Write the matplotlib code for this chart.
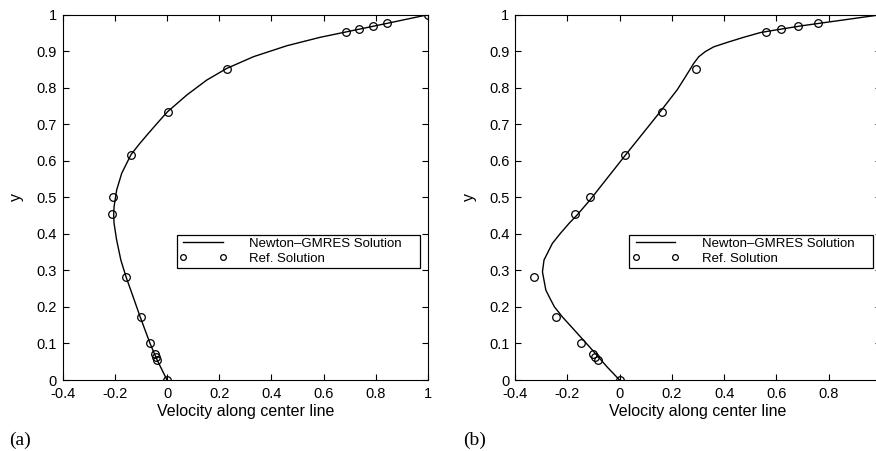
import numpy as np
import matplotlib.pyplot as plt
from matplotlib.ticker import FormatStrFormatter

plt.rcParams['font.family'] = ['Liberation Sans', 'DejaVu Sans']

# Reference solution: u-velocity along vertical centre line
y_ref = [0.0, 0.0547, 0.0625, 0.0703, 0.1016, 0.1719, 0.2813, 0.4531, 0.5,
         0.6172, 0.7344, 0.8516, 0.9531, 0.9609, 0.9688, 0.9766, 1.0]
u_ref_a = [0.0, -0.03717, -0.04192, -0.04775, -0.06434, -0.10150, -0.15662,
           -0.21090, -0.20581, -0.13641, 0.00332, 0.23151, 0.68717, 0.73722,
           0.78871, 0.84123, 1.0]
u_ref_b = [0.0, -0.08186, -0.09266, -0.10338, -0.14612, -0.24299, -0.32726,
           -0.17119, -0.11477, 0.02135, 0.16256, 0.29093, 0.55892, 0.61756,
           0.68439, 0.75837, 1.0]

# Newton-GMRES solution curves
y_a = [0.0, 0.0548, 0.1, 0.173, 0.23, 0.2813, 0.3285, 0.383, 0.429, 0.452,
       0.474, 0.52, 0.566, 0.617, 0.647, 0.675, 0.705, 0.734, 0.78, 0.821,
       0.853, 0.885, 0.915, 0.938, 0.953, 0.976, 1.0]
u_a = [0.0, -0.038, -0.065, -0.103, -0.131, -0.1566, -0.177, -0.193, -0.203,
       -0.2045, -0.203, -0.193, -0.1736, -0.138, -0.105, -0.0716, -0.035,
       0.0013, 0.0755, 0.152, 0.229, 0.331, 0.459, 0.586, 0.687, 0.841, 1.0]

y_b = [0.0, 0.036, 0.082, 0.128, 0.173, 0.2, 0.219, 0.246, 0.296, 0.3285,
       0.347, 0.374, 0.4, 0.429, 0.452, 0.493, 0.618, 0.734, 0.794, 0.83,
       0.867, 0.885, 0.899, 0.912, 0.924, 0.938, 0.951, 0.957, 0.97, 0.98, 1.0]
u_b = [0.0, -0.048, -0.104, -0.162, -0.219, -0.249, -0.263, -0.282, -0.295,
       -0.289, -0.276, -0.257, -0.228, -0.193, -0.162, -0.113, 0.025, 0.155,
       0.22, 0.252, 0.284, 0.303, 0.328, 0.36, 0.411, 0.474, 0.538, 0.587,
       0.70, 0.80, 1.0]

xticks_a = np.arange(-0.4, 1.01, 0.2)
xticks_b = np.arange(-0.4, 0.81, 0.2)   # right edge of panel (b) is trimmed
yticks = np.arange(0, 1.01, 0.1)

fig = plt.figure(figsize=(8.76, 4.51), dpi=100)
ax_a = fig.add_axes([0.0715, 0.1574, 0.4171, 0.810])
ax_b = fig.add_axes([0.5879, 0.1574, 0.4178, 0.810])

panels = [(ax_a, u_a, y_a, u_ref_a, xticks_a, '(a)', 0.023),
          (ax_b, u_b, y_b, u_ref_b, xticks_b, '(b)', 0.542)]

for ax, u, y, uref, xt, tag, tx in panels:
    ax.plot(u, y, color='black', lw=1.0, label='Newton\u2013GMRES Solution')
    ax.plot(uref, y_ref, 'o', mfc='none', mec='black', ms=5.5, mew=0.9,
            label='Ref. Solution')
    ax.set_xlim(-0.4, 1)
    ax.set_ylim(0, 1)
    ax.set_xticks(xt)
    ax.set_yticks(yticks)
    ax.xaxis.set_major_formatter(FormatStrFormatter('%g'))
    ax.yaxis.set_major_formatter(FormatStrFormatter('%g'))
    ax.tick_params(direction='in', top=True, right=True, length=4,
                   width=0.8, labelsize=10.5)
    ax.tick_params(axis='x', pad=5)
    ax.tick_params(axis='y', pad=4)
    for s in ax.spines.values():
        s.set_linewidth(0.8)
    ax.set_xlabel('Velocity along center line', fontsize=11.5, labelpad=2)
    ax.set_ylabel('y', fontsize=11.5, labelpad=9)
    leg = ax.legend(loc='upper left', bbox_to_anchor=(0.312, 0.387, 0.666, 0.01),
                    mode='expand', numpoints=2, markerscale=0.75,
                    fontsize=9.5, handlelength=3.6, handletextpad=1.7,
                    borderpad=0.2, labelspacing=0.22, borderaxespad=0,
                    fancybox=False, framealpha=1, edgecolor='black')
    leg.get_frame().set_linewidth(0.9)
    fig.text(tx, 0.024, tag, family=['Liberation Serif', 'DejaVu Serif'],
             fontsize=14, ha='center', va='center')

fig.savefig('out.png', dpi=100)
